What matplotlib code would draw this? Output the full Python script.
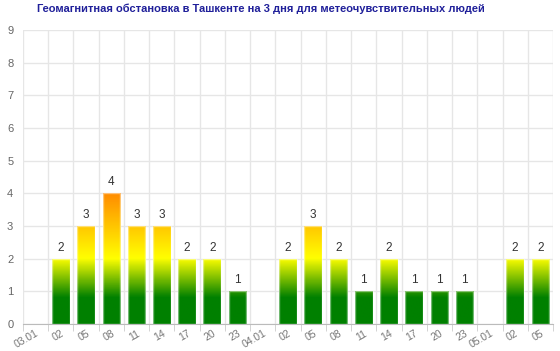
import numpy as np
import matplotlib
matplotlib.use("Agg")
import matplotlib.pyplot as plt
from matplotlib.colors import LinearSegmentedColormap

plt.rcParams['font.family'] = ['Liberation Sans', 'DejaVu Sans']

labels = ['03.01', '02', '05', '08', '11', '14', '17', '20', '23',
          '04.01', '02', '05', '08', '11', '14', '17', '20', '23',
          '05.01', '02', '05']
values = [0, 2, 3, 4, 3, 3, 2, 2, 1,
          0, 2, 3, 2, 1, 2, 1, 1, 1,
          0, 2, 2]
title = "Геомагнитная обстановка в Ташкенте на 3 дня для метеочувствительных людей"

# colour depends on the absolute level (0..4)
grad_max = 4.0
cmap = LinearSegmentedColormap.from_list(
    "kp", [(0.0, "#008000"), (0.8 / grad_max, "#008000"),
           (2.0 / grad_max, "#ffff00"), (1.0, "#ff8c00")])

fig = plt.figure(figsize=(5.6, 3.51), dpi=100)
ax = fig.add_axes([23 / 560, 27 / 351, 530 / 560, 294 / 351])

x = np.arange(len(labels))
bars = ax.bar(x, values, width=0.7, color='none',
              edgecolor=(1, 1, 1, 0.45), linewidth=1, zorder=3)

for b, v in zip(bars, values):
    if v <= 0:
        continue
    x0 = b.get_x()
    w = b.get_width()
    ys = np.linspace(v, 0, 200)
    img = cmap(np.clip(ys / grad_max, 0, 1))[:, None, :]
    im = ax.imshow(img, extent=[x0, x0 + w, 0, v], aspect='auto',
                   interpolation='bilinear', zorder=2)
    im.set_clip_path(b)
    ax.text(b.get_x() + w / 2, v + 0.15, str(v), ha='center', va='bottom',
            fontsize=8.5, color='#333333', zorder=4)

ax.set_xlim(-0.5, len(labels) - 0.5)
ax.set_ylim(0, 9)
ax.set_yticks(range(0, 10))
ax.set_xticks(x)
ax.set_xticklabels(labels, rotation=30, ha='right', va='top',
                   rotation_mode='anchor')
ax.set_xticks(np.arange(-0.5, len(labels)), minor=True)
ax.tick_params(axis='x', which='major', length=0, pad=3,
               labelsize=7.5, labelcolor='#777777')
ax.tick_params(axis='x', which='minor', length=5, color='#cccccc')
ax.tick_params(axis='y', length=0, pad=7, labelsize=8, labelcolor='#666666')

ax.grid(True, axis='y', color='#e6e6e6', linewidth=1, zorder=0)
ax.grid(True, axis='x', which='minor', color='#e6e6e6', linewidth=1, zorder=0)
ax.set_axisbelow(True)
for s in ['top', 'right', 'left']:
    ax.spines[s].set_visible(False)
ax.spines['bottom'].set_color('#bbbbbb')

fig.text(261 / 560, 1 - 9 / 351, title, ha='center', va='center',
         fontsize=8, fontweight='bold', color='#20209a')

fig.savefig("out.png", dpi=100)
